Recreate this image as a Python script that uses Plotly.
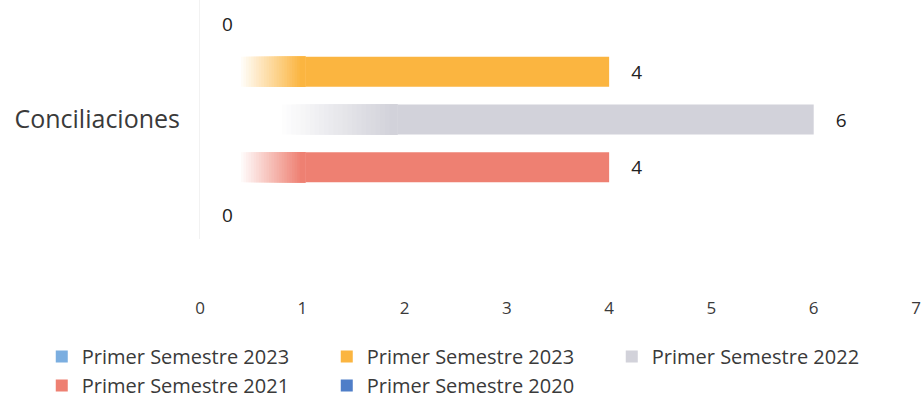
import plotly.graph_objects as go

categories = ["Conciliaciones"]
series_names = ["Primer Semestre 2023", "Primer Semestre 2023", "Primer Semestre 2022",
                "Primer Semestre 2021", "Primer Semestre 2020"]
series_values = [0, 4, 6, 4, 0]
series_colors = ["#7BAEE0", "#FBB540", "#D2D2DA", "#EE8072", "#4F7EC8"]
fade_start = [0.4, 0.4, 0.8, 0.4, 0.4]
fade_end = [1.0, 1.0, 1.9, 1.0, 1.0]
x_ticks = [0, 1, 2, 3, 4, 5, 6, 7]

FONT = "'Open Sans', Lato, sans-serif"
TXT = "#3a3a3a"


def blend(hex_col, t):
    r, g, b = int(hex_col[1:3], 16), int(hex_col[3:5], 16), int(hex_col[5:7], 16)
    mix = lambda c: round(255 + (c - 255) * t)
    return f"rgb({mix(r)},{mix(g)},{mix(b)})"


fig = go.Figure()
# main (legend) bars: solid part from the end of the fade to the value
for i, (name, val, col) in enumerate(zip(series_names, series_values, series_colors)):
    base = fade_end[i] if val > 0 else 0
    fig.add_trace(go.Bar(
        y=categories, x=[val - base], base=[base], name=name, orientation="h",
        marker=dict(color=col, line=dict(width=0)),
        offsetgroup=str(i),
        text=[val], texttemplate="\u2003%{text}", textposition="outside",
        textfont=dict(family=FONT, size=19, color="#222222"),
        cliponaxis=False,
    ))

# gradient imitation: opaque white->colour segments at the left end of each bar
steps = 24
for i, val in enumerate(series_values):
    if val <= 0:
        continue
    s, e = fade_start[i], fade_end[i]
    w = (e - s) / steps
    for k in range(steps):
        b0 = s + k * w
        fig.add_trace(go.Bar(
            y=categories, x=[e + 0.03 - b0], base=[b0], orientation="h",
            marker=dict(color=blend(series_colors[i], (k + 1) / steps), line=dict(width=0)),
            offsetgroup=str(i), showlegend=False, hoverinfo="skip"))

fig.update_layout(
    width=922, height=415,
    margin=dict(l=200, r=6, t=0, b=176),
    paper_bgcolor="white", plot_bgcolor="white",
    barmode="group", bargap=0.0, bargroupgap=0.37,
    font=dict(family=FONT, color=TXT),
    showlegend=True,
    legend=dict(orientation="h", x=-0.221, xanchor="left", y=-0.41, yanchor="top",
                font=dict(family=FONT, size=20, color=TXT),
                itemwidth=30, entrywidth=240, tracegroupgap=0, traceorder="normal"),
    xaxis=dict(range=[0, 7], tickvals=x_ticks, showgrid=False, zeroline=False,
               showline=False, ticks="", ticklabelstandoff=57, automargin=False,
               ticklabeloverflow="allow",
               tickfont=dict(family=FONT, size=17, color=TXT)),
    yaxis=dict(type="category", range=[0.5, -0.5], showgrid=False, zeroline=False,
               showline=True, linecolor="#f2f2f2", linewidth=1, ticks="",
               ticklabelstandoff=14, automargin=False,
               tickfont=dict(family=FONT, size=25, color=TXT)),
)

fig.write_html("out.html", config={"displayModeBar": False},
               post_script="document.body.style.margin='0';")
